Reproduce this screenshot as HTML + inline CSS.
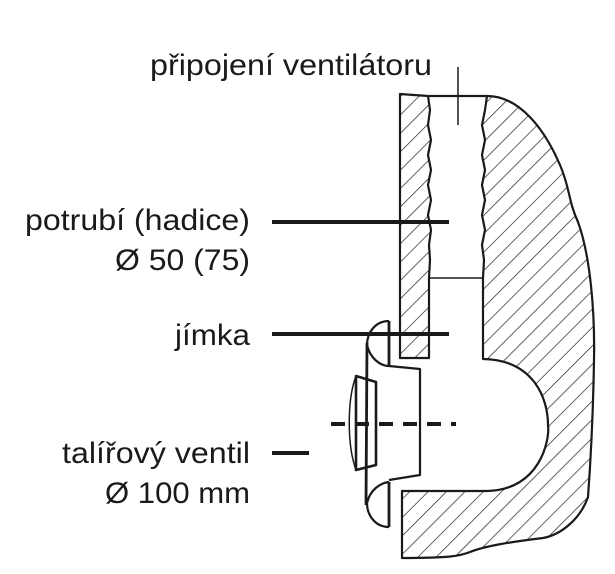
<!DOCTYPE html>
<html><head><meta charset="utf-8"><style>html,body{margin:0;padding:0;background:#fff}svg{display:block}</style></head>
<body>
<svg width="615" height="574" viewBox="0 0 615 574" xmlns="http://www.w3.org/2000/svg">
<defs>
<pattern id="h" patternUnits="userSpaceOnUse" width="13" height="13" patternTransform="rotate(45)">
<line x1="0" y1="0" x2="0" y2="13" stroke="#222" stroke-width="1.4"/>
</pattern>
</defs>
<g font-family="Liberation Sans, sans-serif" font-size="30" fill="#1a1a1a">
<text x="150" y="75" textLength="282" lengthAdjust="spacingAndGlyphs">připojení ventilátoru</text>
<text x="250" y="230" text-anchor="end" textLength="225" lengthAdjust="spacingAndGlyphs">potrubí (hadice)</text>
<text x="250" y="270" text-anchor="end" textLength="135" lengthAdjust="spacingAndGlyphs">Ø 50 (75)</text>
<text x="250" y="345" text-anchor="end" textLength="75" lengthAdjust="spacingAndGlyphs">jímka</text>
<text x="250" y="463" text-anchor="end" textLength="188" lengthAdjust="spacingAndGlyphs">talířový ventil</text>
<text x="250" y="503" text-anchor="end" textLength="145" lengthAdjust="spacingAndGlyphs">Ø 100 mm</text>
</g>
<g stroke="#1a1a1a" fill="none" stroke-width="2.2" stroke-linejoin="round">
<path d="M400,94 L428,96 L430,110 L428,125 L431,140 L428,155 L431,170 L428,185 L431,200 L428,215 L431,230 L429,245 L430,260 L429,278 L429,358 L400,358 Z" fill="url(#h)"/>
<path d="M487,96 C520,96 545,130 560,165 C570,188 568,200 578,222 C590,255 595,310 594,360 C593,420 590,470 588,497 C580,520 560,535 543,538 C510,542 485,546 470,552 C460,556 450,558 402,558 L402,491 L487,491 C540,490 550,440 548,425 C548,400 535,360 483,359 L483,278 L484,260 L482,245 L485,230 L482,215 L485,200 L482,185 L485,170 L482,155 L485,140 L482,125 L485,110 Z" fill="url(#h)"/>
<path d="M429,96 L487,96"/>
<path d="M389,321 C375,321 367,333 367,345 C370,358 380,366 389,366" />
<path d="M389,527 C375,527 367,515 367,503 C370,490 380,483 389,482" />
<path d="M367,343 L366,505" stroke-width="2.8"/>
<path d="M389,321 L389,366 M389,482 L389,527" stroke-width="2.8"/>
<path d="M389,366 L420,369 L420,475 L389,480"/>
<path d="M356,376 L376,382 L376,465 L356,470 Z" stroke-width="2.6"/>
<path d="M356,376 C347,400 347,445 356,470" stroke-width="1.5"/>
</g>
<g stroke="#1a1a1a" fill="none">
<line x1="429" y1="278" x2="483" y2="278" stroke-width="1.5"/>
<line x1="458" y1="67" x2="458" y2="125" stroke-width="1.5"/>
<line x1="272" y1="222" x2="449" y2="222" stroke-width="4"/>
<line x1="272" y1="334" x2="449" y2="334" stroke-width="4"/>
<line x1="272" y1="453" x2="309" y2="453" stroke-width="4"/>
<line x1="331" y1="424" x2="456" y2="424" stroke-width="4" stroke-dasharray="14,10"/>
</g>
</svg>
</body></html>
